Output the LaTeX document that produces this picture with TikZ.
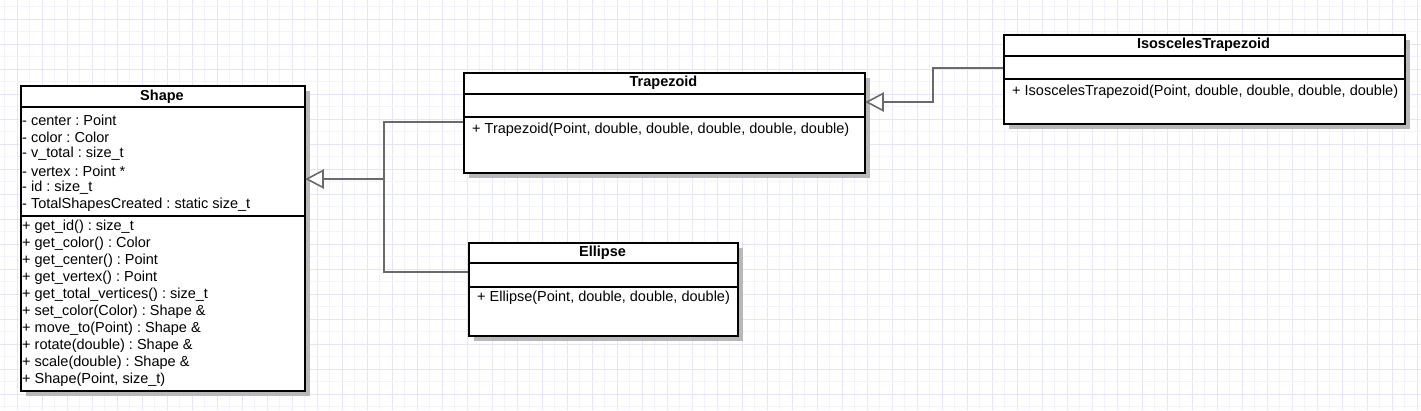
\documentclass[tikz,border=0pt]{standalone}
\usepackage{fontspec}
\setmainfont{Liberation Sans}
\definecolor{gridmaj}{HTML}{E4E4FA}
\definecolor{gridmin}{HTML}{F3F3FD}
\definecolor{conncol}{HTML}{6A6A6A}
\definecolor{shadowcol}{HTML}{B8B8B8}
\tikzset{
  classbox/.style={draw=black, line width=2pt, fill=white, inner sep=0pt, anchor=north west},
  shadowbox/.style={fill=shadowcol},
  sepline/.style={line width=1.8pt, black},
  member/.style={anchor=west, inner sep=0pt, font=\fontsize{14.5}{17}\selectfont},
  title/.style={anchor=center, inner sep=0pt, font=\fontsize{14.5}{17}\selectfont\bfseries},
  conn/.style={draw=conncol, line width=1.8pt},
  openhead/.style={draw=conncol, line width=1.6pt, fill=white, line join=miter},
}
\begin{document}
\frenchspacing
\begin{tikzpicture}[x=1pt, y=-1pt]
\useasboundingbox (0,0) rectangle (1421,410);
\fill[white] (0,0) rectangle (1421,410);
% grid
\begin{scope}
\clip (0,0) rectangle (1421,410);
\foreach \i in {0,...,57} {
  \draw[gridmin, line width=1pt] ({4.8+25*\i},0) -- ({4.8+25*\i},410);
  \draw[gridmaj, line width=1pt] ({17.3+25*\i},0) -- ({17.3+25*\i},410);
}
\foreach \j in {0,...,17} {
  \draw[gridmin, line width=1pt] (0,{6.8+25*\j}) -- (1421,{6.8+25*\j});
  \draw[gridmaj, line width=1pt] (0,{19.3+25*\j}) -- (1421,{19.3+25*\j});
}
\end{scope}

% shadows
\fill[shadowbox] (26,91) rectangle (310,396);
\fill[shadowbox] (469,78) rectangle (870,178);
\fill[shadowbox] (1009,40) rectangle (1410,129);
\fill[shadowbox] (474,248) rectangle (743,341);

% Shape
\node[classbox, minimum width=284pt, minimum height=305pt] (shape) at (20,85) {};
\draw[sepline] (20,107) -- (304,107);
\draw[sepline] (20,216) -- (304,216);
\node[title] (shapeT) at (162,96.5) {Shape};
\node[member] (sa1) at (22,120) {- center : Point};
\node[member] (sa2) at (22,137) {- color : Color};
\node[member] (sa3) at (22,154) {- v\_total : size\_t};
\node[member] (sa4) at (22,171) {- vertex : Point *};
\node[member] (sa5) at (22,188) {- id : size\_t};
\node[member] (sa6) at (22,205) {- TotalShapesCreated : static size\_t};
\node[member] (sm1) at (22,227) {+ get\_id() : size\_t};
\node[member] (sm2) at (22,244) {+ get\_color() : Color};
\node[member] (sm3) at (22,261) {+ get\_center() : Point};
\node[member] (sm4) at (22,278) {+ get\_vertex() : Point};
\node[member] (sm5) at (22,295) {+ get\_total\_vertices() : size\_t};
\node[member] (sm6) at (22,312) {+ set\_color(Color) : Shape \&};
\node[member] (sm7) at (22,329) {+ move\_to(Point) : Shape \&};
\node[member] (sm8) at (22,346) {+ rotate(double) : Shape \&};
\node[member] (sm9) at (22,363) {+ scale(double) : Shape \&};
\node[member] (sm10) at (22,380) {+ Shape(Point, size\_t)};

% Trapezoid
\node[classbox, minimum width=401pt, minimum height=100pt] (trap) at (463,72) {};
\draw[sepline] (463,94) -- (864,94);
\draw[sepline] (463,117) -- (864,117);
\node[title] (trapT) at (663.5,83) {Trapezoid};
\node[member] (tm1) at (472,130) {+ Trapezoid(Point, double, double, double, double, double)};

% IsoscelesTrapezoid
\node[classbox, minimum width=401pt, minimum height=89pt] (iso) at (1003,34) {};
\draw[sepline] (1003,56) -- (1404,56);
\draw[sepline] (1003,79) -- (1404,79);
\node[title] (isoT) at (1203.5,45) {IsoscelesTrapezoid};
\node[member] (im1) at (1012,92) {+ IsoscelesTrapezoid(Point, double, double, double, double)};

% Ellipse
\node[classbox, minimum width=269pt, minimum height=93pt] (ell) at (468,242) {};
\draw[sepline] (468,263) -- (737,263);
\draw[sepline] (468,287) -- (737,287);
\node[title] (ellT) at (602.5,252.5) {Ellipse};
\node[member] (em1) at (477,298) {+ Ellipse(Point, double, double, double)};

% connectors
\coordinate (shapeIn) at ([xshift=1pt,yshift=-94pt]shape.north east);
\coordinate (trapOut) at ([yshift=-50pt]trap.north west);
\coordinate (trapIn) at ([xshift=1pt,yshift=-30pt]trap.north east);
\coordinate (ellOut) at ([yshift=-30pt]ell.north west);
\coordinate (isoOut) at ([yshift=-34pt]iso.north west);
\draw[conn] (trapOut) -- (384,122) -- (384,179) -- ([xshift=16pt]shapeIn);
\draw[conn] (ellOut) -- (384,272) -- (384,179);
\draw[openhead] (shapeIn) -- ++(16,-8.5) -- ++(0,17) -- cycle;
\draw[conn] (isoOut) -- (933,68) -- (933,102) -- ([xshift=16pt]trapIn);
\draw[openhead] (trapIn) -- ++(16,-8.5) -- ++(0,17) -- cycle;
\end{tikzpicture}
\end{document}
